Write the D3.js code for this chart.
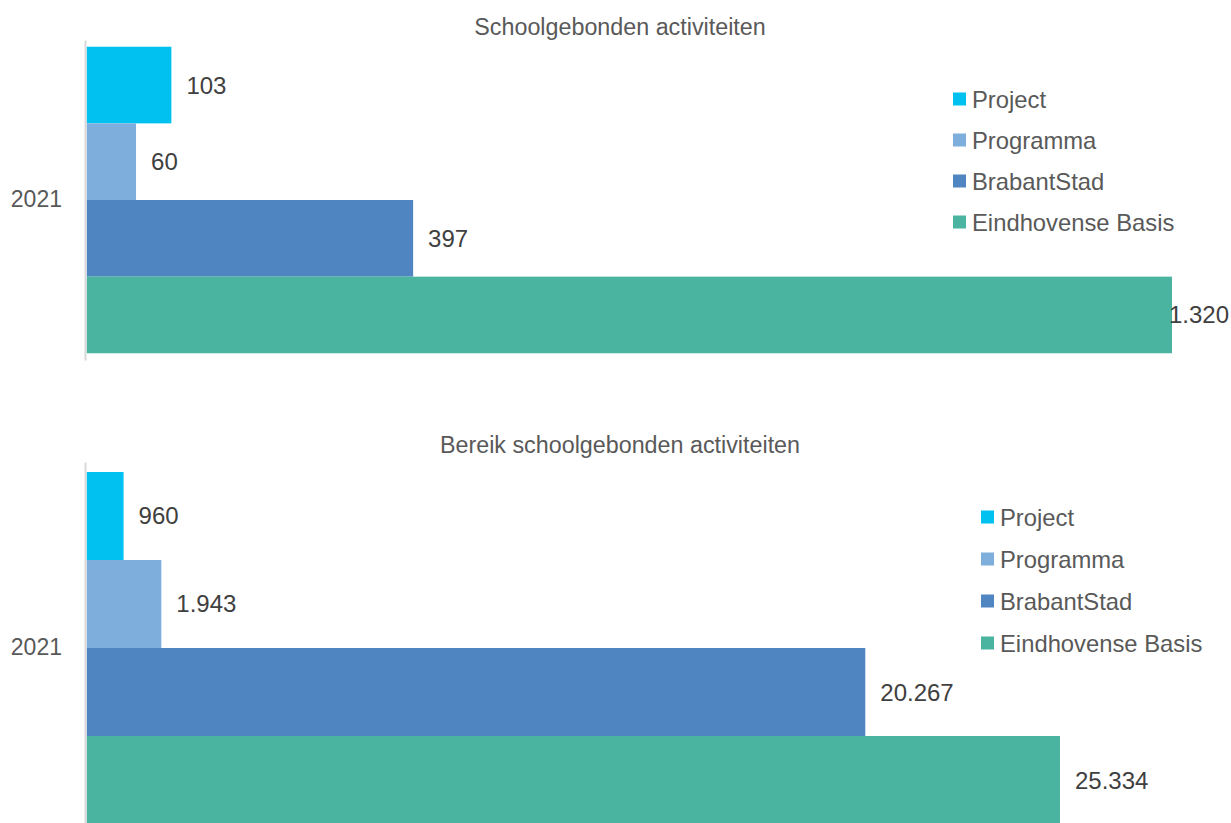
<!DOCTYPE html>
<html>
<head>
<meta charset="utf-8">
<script src="https://cdn.jsdelivr.net/npm/d3@7"></script>
<style>
  html, body { margin: 0; padding: 0; background: #fff; }
  svg { display: block; font-family: "Liberation Sans", Arial, sans-serif; }
</style>
</head>
<body>
<svg id="chart" width="1231" height="823"></svg>
<script>
// ---- data ----
const years = ["2021"];
const seriesNames = ["Project", "Programma", "BrabantStad", "Eindhovense Basis"];
const seriesColors = ["#00C1EF", "#7EAEDC", "#4F86C2", "#4BB4A0"];
const titles = ["Schoolgebonden activiteiten", "Bereik schoolgebonden activiteiten"];
const activiteitenValues = [103, 60, 397, 1320];
const bereikValues = [960, 1943, 20267, 25334];

const nl = d3.formatLocale({ decimal: ",", thousands: ".", grouping: [3], currency: ["€", ""] });
const fmt = nl.format(",d");

const svg = d3.select("#chart");

const panels = [
  { title: titles[0], values: activiteitenValues, xMax: 1320, yRange: [40, 360], padOuter: 0.022,
    titleY: 27, legendX: 953, legendY: 99, legendStep: 41 },
  { title: titles[1], values: bereikValues, xMax: 28250, yRange: [462, 834], padOuter: 0.0284,
    titleY: 445, legendX: 981, legendY: 517, legendStep: 42 }
];

panels.forEach(p => {
  const g = svg.append("g");
  const x = d3.scaleLinear().domain([0, p.xMax]).range([86.7, 1172]);
  const y0 = d3.scaleBand().domain(years).range(p.yRange).paddingInner(0).paddingOuter(p.padOuter);
  const y1 = d3.scaleBand().domain(seriesNames).range([0, y0.bandwidth()]).padding(0);

  // title
  g.append("text")
    .attr("x", 620).attr("y", p.titleY)
    .attr("text-anchor", "middle").attr("dominant-baseline", "central")
    .attr("fill", "#595959").style("font-size", "23.3px")
    .text(p.title);

  const rows = seriesNames.map((s, i) => ({ year: years[0], name: s, value: p.values[i], color: seriesColors[i] }));

  // bars
  g.selectAll("rect.bar").data(rows).join("rect")
    .attr("class", "bar")
    .attr("x", x(0))
    .attr("y", d => y0(d.year) + y1(d.name))
    .attr("width", d => x(d.value) - x(0))
    .attr("height", y1.bandwidth())
    .attr("fill", d => d.color);

  // axis
  const ax = g.append("g").attr("transform", "translate(85,0)")
    .call(d3.axisLeft(y0).tickSize(0).tickPadding(23));
  ax.select(".domain").attr("stroke", "#D9D9D9").attr("stroke-width", 2);
  ax.selectAll("text").attr("fill", "#595959").style("font-size", "23px")
    .style("font-family", "\"Liberation Sans\", Arial, sans-serif");

  // value labels
  g.selectAll("text.lbl").data(rows).join("text")
    .attr("class", "lbl")
    .attr("y", d => y0(d.year) + y1(d.name) + y1.bandwidth() / 2)
    .attr("dominant-baseline", "central")
    .attr("fill", "#404040").style("font-size", "24px")
    .text(d => fmt(d.value))
    .each(function(d) {
      const w = this.getComputedTextLength();
      d3.select(this).attr("x", Math.min(x(d.value) + 15, 1229 - w));
    });

  // legend
  const lg = g.append("g");
  seriesNames.forEach((s, i) => {
    const cy = p.legendY + i * p.legendStep;
    lg.append("rect").attr("x", p.legendX).attr("y", cy - 6.5)
      .attr("width", 13).attr("height", 13).attr("fill", seriesColors[i]);
    lg.append("text").attr("x", p.legendX + 19).attr("y", cy)
      .attr("dominant-baseline", "central")
      .attr("fill", "#595959").style("font-size", "23.8px")
      .text(s);
  });
});
</script>
</body>
</html>
